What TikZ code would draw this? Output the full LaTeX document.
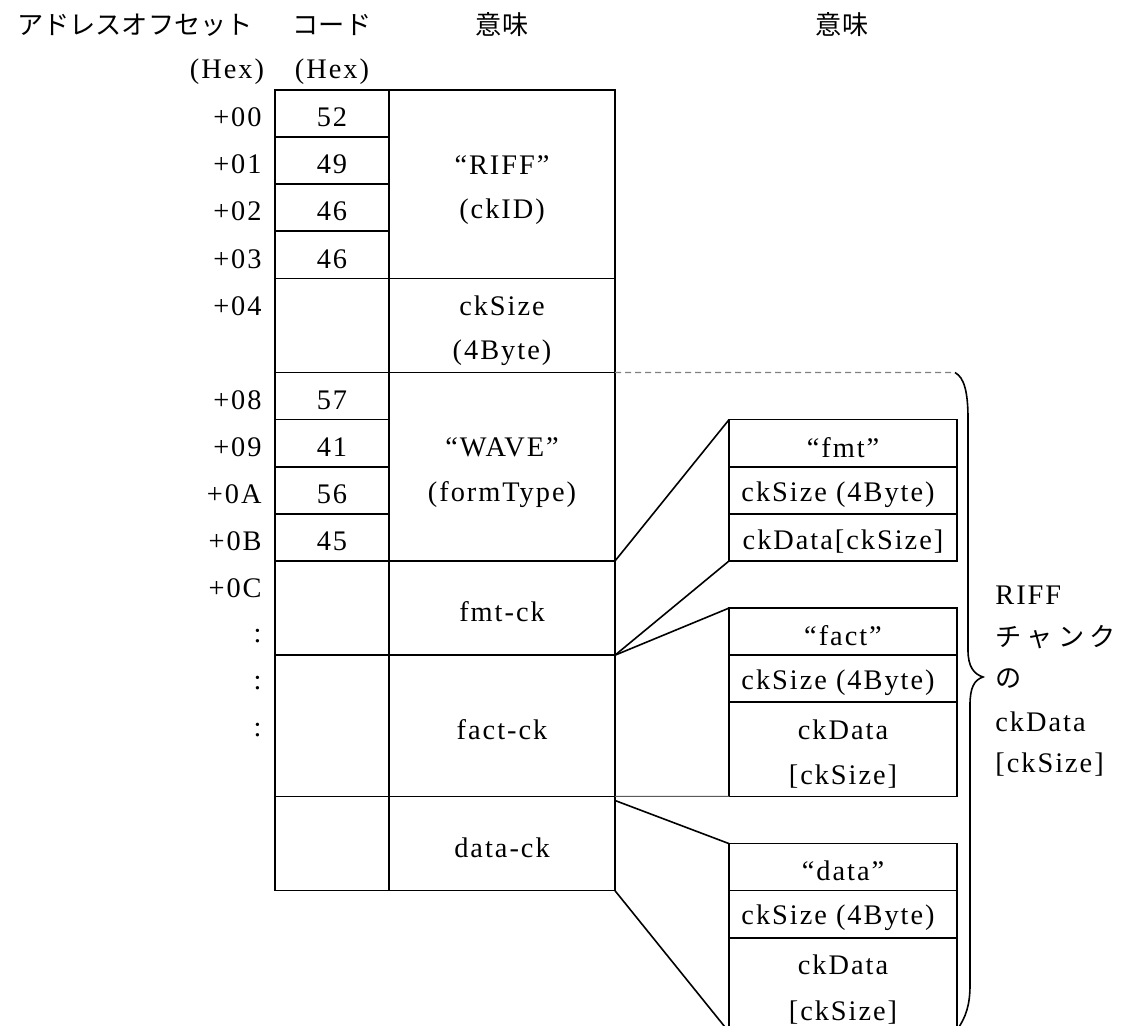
\documentclass[tikz,border=0pt]{standalone}
\usepackage{fontspec}
\setmainfont{Liberation Serif}[Scale=1.05,LetterSpace=7]
\newfontfamily\jp{Noto Sans CJK JP}[Scale=0.97]
\begin{document}
\begin{tikzpicture}[x=0.5pt,y=-0.5pt,
  every node/.style={font=\fontsize{13.5pt}{16pt}\selectfont, inner sep=0pt},
  cell/.style={draw, line width=0.8pt, inner sep=0pt, outer sep=0pt, anchor=north west},
  codecell/.style={cell, minimum width=57pt},
  meancell/.style={cell, minimum width=113pt},
  subcell/.style={cell, minimum width=114pt},
  conn/.style={line width=0.8pt},
  offs/.style={anchor=east},
  jptext/.style={font=\fontsize{13.5pt}{16pt}\selectfont\jp}
]
\def\R{47.1}
\def\H{23.55pt}
\useasboundingbox (0,0) rectangle (1132,1026);
\fill[white] (0,0) rectangle (1132,1026);

% headers
\node[jptext] (hAddr) at (135,25) {アドレスオフセット};
\node[jptext] (hCode) at (332,25) {コード};
\node[jptext] (hMean1) at (502,25) {意味};
\node[jptext] (hMean2) at (842,25) {意味};
\node (hHex1) at (227,72) {(Hex)};
\node (hHex2) at (332,72) {(Hex)};

% code column cells
\foreach \k/\v in {0/52,1/49,2/46,3/46,6/57,7/41,8/56,9/45}{
  \node[codecell, minimum height=\H] (code\k) at (275,{90+\R*\k}) {};
  \node (codev\k) at (332,{90+\R*\k+27.5}) {\v};
}
\node[codecell, minimum height=2*\H] (code4) at (275,{90+\R*4}) {};
\node[codecell, minimum height=2*\H] (code10) at (275,{90+\R*10}) {};
\node[codecell, minimum height=3*\H] (code12) at (275,{90+\R*12}) {};
\node[codecell, minimum height=2*\H] (code15) at (275,{90+\R*15}) {};

% offsets
\foreach \k/\v in {0/+00,1/+01,2/+02,3/+03,4/+04,6/+08,7/+09,8/+0A,9/+0B,10/+0C,11/:,12/:,13/:}{
  \node[offs] (off\k) at (262,{90+\R*\k+27.5}) {\v};
}

% meaning column
\node[meancell, minimum height=4*\H] (riff) at (389,{90}) {};
\node[meancell, minimum height=2*\H] (cksize) at (389,{90+\R*4}) {};
\node[meancell, minimum height=4*\H] (wave) at (389,{90+\R*6}) {};
\node[meancell, minimum height=2*\H] (fmtck) at (389,{90+\R*10}) {};
\node[meancell, minimum height=3*\H] (factck) at (389,{90+\R*12}) {};
\node[meancell, minimum height=2*\H] (datack) at (389,{90+\R*15}) {};

\node (t1) at (502,{90+\R*1+27.5}) {“RIFF”};
\node (t2) at (502,{90+\R*2+27.5}) {(ckID)};
\node (t3) at (502,{90+\R*4+27.5}) {ckSize};
\node (t4) at (502,{90+\R*5+27.5}) {(4Byte)};
\node (t5) at (502,{90+\R*7+27.5}) {“WAVE”};
\node (t6) at (502,{90+\R*8+27.5}) {(formType)};
\node (t7) at (502,{90+\R*10.5+27.5}) {fmt-ck};
\node (t8) at (502,{90+\R*13+27.5}) {fact-ck};
\node (t9) at (502,{90+\R*15.5+27.5}) {data-ck};

% fmt sub box
\node[subcell, minimum height=\H] (fmtA) at (729,{90+\R*7}) {};
\node[subcell, minimum height=\H] (fmtB) at (729,{90+\R*8}) {};
\node[subcell, minimum height=\H] (fmtC) at (729,{90+\R*9}) {};
\node (s1) at (843,{90+\R*7+27.5}) {“fmt”};
\node (s2) at (838,{90+\R*8+27.5}) {ckSize (4Byte)};
\node (s3) at (843,{90+\R*9+27.5}) {ckData[ckSize]};

% fact sub box
\node[subcell, minimum height=\H] (factA) at (729,{90+\R*11}) {};
\node[subcell, minimum height=\H] (factB) at (729,{90+\R*12}) {};
\node[subcell, minimum height=2*\H] (factC) at (729,{90+\R*13}) {};
\node (s4) at (843,{90+\R*11+27.5}) {“fact”};
\node (s5) at (838,{90+\R*12+27.5}) {ckSize (4Byte)};
\node (s6) at (843,{90+\R*13+27.5}) {ckData};
\node (s7) at (843,{90+\R*14+27.5}) {[ckSize]};

% data sub box
\node[subcell, minimum height=\H] (dataA) at (729,{90+\R*16}) {};
\node[subcell, minimum height=\H] (dataB) at (729,{90+\R*17}) {};
\node[subcell, minimum height=2*\H] (dataC) at (729,{90+\R*18}) {};
\node (s8) at (843,{90+\R*16+27.5}) {“data”};
\node (s9) at (838,{90+\R*17+27.5}) {ckSize (4Byte)};
\node (s10) at (843,{90+\R*18+27.5}) {ckData};
\node (s11) at (843,{90+\R*19+27.5}) {[ckSize]};

% connectors
\draw[conn] (fmtck.north east) -- (fmtA.north west);
\draw[conn] (fmtck.south east) -- (fmtC.south west);
\draw[conn] (factck.north east) -- (factA.north west);
\draw[line width=0.5pt, gray!70!black] (factck.south east) -- (factC.south west);
\draw[conn] ([yshift=-2pt]datack.north east) -- (dataA.north west);
\draw[conn] (datack.south east) -- (dataC.south west);

% dashed line and brace
\coordinate (btop) at (955,372.6);
\draw[gray, line width=0.6pt, dash pattern=on 3pt off 2pt] (cksize.south east) -- (btop);
\draw[line width=0.8pt] (btop) .. controls (964,377) and (968,392) .. (968,418)
  -- (968,650) .. controls (968,667) and (974,674) .. (983,677)
  .. controls (974,680) and (970,688) .. (970,705)
  -- (970,985) .. controls (970,1005) and (966,1017) .. (957,1030);

% brace label
\node[anchor=west] (b1) at (995,595) {RIFF};
\node[anchor=west, jptext] (b2) at (995,637) {チ\hspace{2.6pt}ャ\hspace{2.6pt}ン\hspace{2.6pt}ク};
\node[anchor=west, jptext] (b3) at (995,679) {の};
\node[anchor=west] (b4) at (995,722) {ckData};
\node[anchor=west] (b5) at (995,765) {[ckSize]};
\end{tikzpicture}
\end{document}
